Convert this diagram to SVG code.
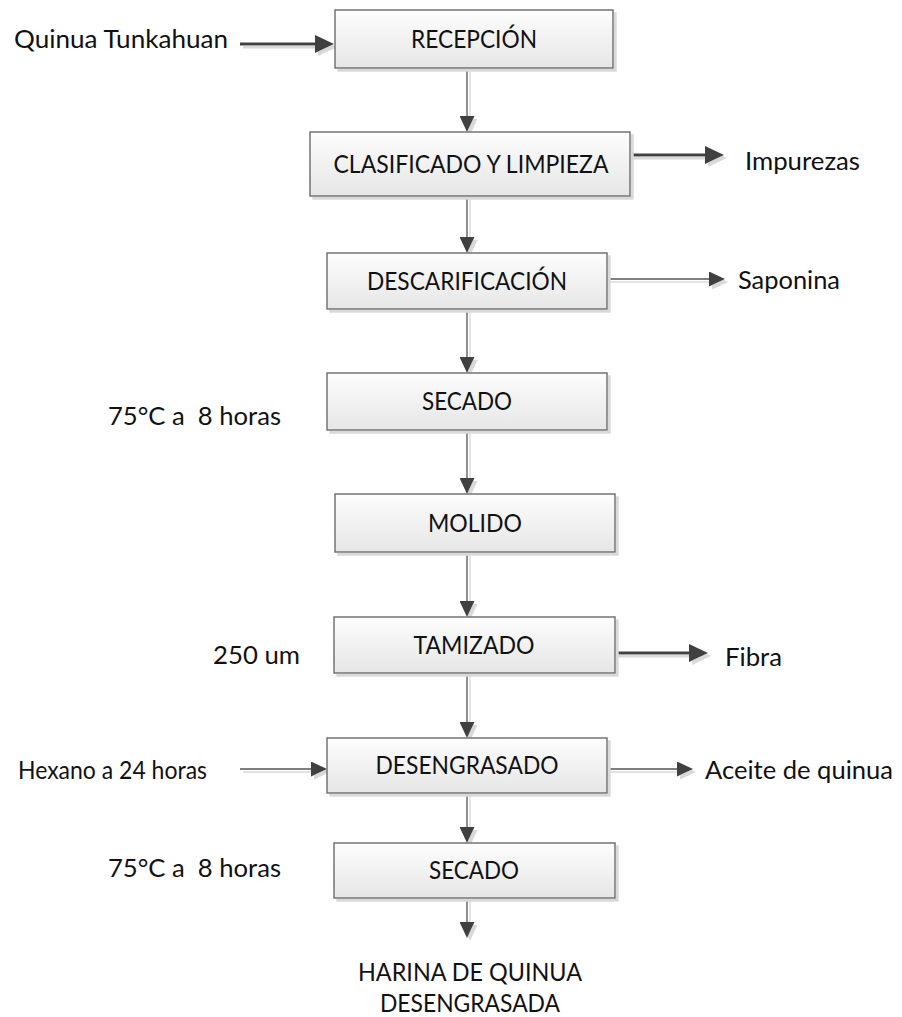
<svg xmlns="http://www.w3.org/2000/svg" width="902" height="1017" viewBox="0 0 902 1017">
  <defs>
    <linearGradient id="boxFill" x1="0" y1="0" x2="0" y2="1">
      <stop offset="0" stop-color="#fdfdfd"/>
      <stop offset="1" stop-color="#e6e6e6"/>
    </linearGradient>
    <filter id="shadow" x="-5%" y="-5%" width="115%" height="130%">
      <feFlood flood-color="#d9d9d9" result="c"/>
      <feComposite in="c" in2="SourceAlpha" operator="in" result="s"/>
      <feOffset in="s" dx="3" dy="3" result="so"/>
      <feMerge>
        <feMergeNode in="so"/>
        <feMergeNode in="SourceGraphic"/>
      </feMerge>
    </filter>
    <marker id="head" viewBox="0 0 16 15" refX="10" refY="7.5" markerWidth="16" markerHeight="15" markerUnits="userSpaceOnUse" orient="auto">
      <path d="M0,0 L16,7.5 L0,15 z" fill="#404040"/>
    </marker>
    <marker id="headBig" viewBox="0 0 19 18" refX="12" refY="9" markerWidth="19" markerHeight="18" markerUnits="userSpaceOnUse" orient="auto">
      <path d="M0,0 L19,9 L0,18 z" fill="#404040"/>
    </marker>
  </defs>
  <style>
    .box { fill: url(#boxFill); stroke: #6b6b6b; stroke-width: 1.4; }
    .lbl { font-family: Lato, "Liberation Sans", sans-serif; font-size: 25px; fill: #111111; white-space: pre; }
    .mid { text-anchor: middle; }
    .thin { stroke: #555555; stroke-width: 1.3; fill: none; marker-end: url(#head); }
    .thick { stroke: #404040; stroke-width: 3; fill: none; marker-end: url(#headBig); }
  </style>

  <!-- connectors -->
  <g id="connectors" filter="url(#shadow)">
    <line class="thin" x1="467" y1="68" x2="467" y2="126"/>
    <line class="thin" x1="467" y1="196" x2="467" y2="247"/>
    <line class="thin" x1="467" y1="309" x2="467" y2="367"/>
    <line class="thin" x1="467" y1="430" x2="467" y2="488"/>
    <line class="thin" x1="467" y1="552" x2="467" y2="611"/>
    <line class="thin" x1="467" y1="673" x2="467" y2="732"/>
    <line class="thin" x1="467" y1="793" x2="467" y2="837"/>
    <line class="thin" x1="467" y1="898" x2="467" y2="932"/>
    <line class="thick" x1="240" y1="44" x2="327" y2="44"/>
    <line class="thick" x1="630" y1="155" x2="717" y2="155"/>
    <line class="thin" x1="607" y1="279" x2="719" y2="279"/>
    <line class="thick" x1="615" y1="653" x2="701" y2="653"/>
    <line class="thin" x1="240" y1="769" x2="321" y2="769"/>
    <line class="thin" x1="607" y1="769" x2="687" y2="769"/>
  </g>

  <!-- process steps -->
  <g id="recepcion">
    <rect class="box" x="335" y="10" width="278" height="58" filter="url(#shadow)"/>
    <text class="lbl mid" x="474" y="48" textLength="126" lengthAdjust="spacingAndGlyphs">RECEPCIÓN</text>
  </g>
  <g id="clasificado">
    <rect class="box" x="310" y="132" width="320" height="64" filter="url(#shadow)"/>
    <text class="lbl mid" x="471" y="173" textLength="275" lengthAdjust="spacingAndGlyphs">CLASIFICADO Y LIMPIEZA</text>
  </g>
  <g id="descarificacion">
    <rect class="box" x="327" y="253" width="280" height="56" filter="url(#shadow)"/>
    <text class="lbl mid" x="467" y="290" textLength="200" lengthAdjust="spacingAndGlyphs">DESCARIFICACIÓN</text>
  </g>
  <g id="secado1">
    <rect class="box" x="327" y="373" width="280" height="57" filter="url(#shadow)"/>
    <text class="lbl mid" x="467" y="410" textLength="90" lengthAdjust="spacingAndGlyphs">SECADO</text>
  </g>
  <g id="molido">
    <rect class="box" x="335" y="494" width="280" height="58" filter="url(#shadow)"/>
    <text class="lbl mid" x="475" y="532" textLength="94" lengthAdjust="spacingAndGlyphs">MOLIDO</text>
  </g>
  <g id="tamizado">
    <rect class="box" x="334" y="617" width="281" height="56" filter="url(#shadow)"/>
    <text class="lbl mid" x="474" y="654" textLength="121" lengthAdjust="spacingAndGlyphs">TAMIZADO</text>
  </g>
  <g id="desengrasado">
    <rect class="box" x="327" y="738" width="280" height="55" filter="url(#shadow)"/>
    <text class="lbl mid" x="467" y="774" textLength="183" lengthAdjust="spacingAndGlyphs">DESENGRASADO</text>
  </g>
  <g id="secado2">
    <rect class="box" x="334" y="843" width="281" height="55" filter="url(#shadow)"/>
    <text class="lbl mid" x="474" y="879" textLength="90" lengthAdjust="spacingAndGlyphs">SECADO</text>
  </g>

  <!-- inputs, outputs and conditions -->
  <g id="in-quinua"><text class="lbl" x="14" y="48" textLength="214" lengthAdjust="spacingAndGlyphs">Quinua Tunkahuan</text></g>
  <g id="out-impurezas"><text class="lbl" x="745" y="170" textLength="115" lengthAdjust="spacingAndGlyphs">Impurezas</text></g>
  <g id="out-saponina"><text class="lbl" x="738" y="289" textLength="102" lengthAdjust="spacingAndGlyphs">Saponina</text></g>
  <g id="cond-secado1"><text class="lbl" x="108" y="425" textLength="173" lengthAdjust="spacingAndGlyphs">75°C a  8 horas</text></g>
  <g id="cond-tamizado"><text class="lbl" x="213" y="664" textLength="87" lengthAdjust="spacingAndGlyphs">250 um</text></g>
  <g id="out-fibra"><text class="lbl" x="725" y="666" textLength="57" lengthAdjust="spacingAndGlyphs">Fibra</text></g>
  <g id="in-hexano"><text class="lbl" x="18" y="779" textLength="189" lengthAdjust="spacingAndGlyphs">Hexano a 24 horas</text></g>
  <g id="out-aceite"><text class="lbl" x="705" y="779" textLength="188" lengthAdjust="spacingAndGlyphs">Aceite de quinua</text></g>
  <g id="cond-secado2"><text class="lbl" x="108" y="877" textLength="173" lengthAdjust="spacingAndGlyphs">75°C a  8 horas</text></g>
  <g id="producto">
    <text class="lbl mid" x="470" y="981" textLength="224" lengthAdjust="spacingAndGlyphs">HARINA DE QUINUA</text>
    <text class="lbl mid" x="470" y="1012" textLength="180" lengthAdjust="spacingAndGlyphs">DESENGRASADA</text>
  </g>
</svg>
